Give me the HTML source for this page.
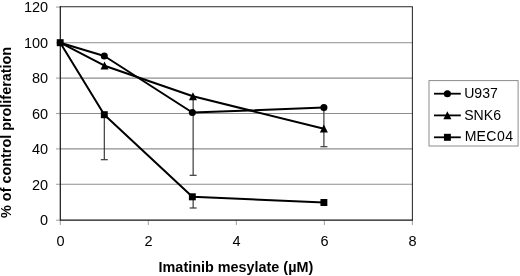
<!DOCTYPE html>
<html><head><meta charset="utf-8"><title>Chart</title>
<style>html,body{margin:0;padding:0;background:#fff}</style></head>
<body>
<svg width="520" height="276" viewBox="0 0 520 276" style="display:block;font-family:'Liberation Sans', Arial, Helvetica, sans-serif">
<rect width="520" height="276" fill="#fff"/>
<line x1="60.3" x2="412.4" y1="184.30" y2="184.30" stroke="#8e8e8e" stroke-width="1.1"/>
<line x1="60.3" x2="412.4" y1="148.90" y2="148.90" stroke="#8e8e8e" stroke-width="1.1"/>
<line x1="60.3" x2="412.4" y1="113.50" y2="113.50" stroke="#8e8e8e" stroke-width="1.1"/>
<line x1="60.3" x2="412.4" y1="78.10" y2="78.10" stroke="#8e8e8e" stroke-width="1.1"/>
<line x1="60.3" x2="412.4" y1="42.70" y2="42.70" stroke="#8e8e8e" stroke-width="1.1"/>
<line x1="56.0" x2="60.3" y1="220.20" y2="220.20" stroke="#a8a8a8" stroke-width="1.1"/>
<line x1="56.0" x2="60.3" y1="184.30" y2="184.30" stroke="#a8a8a8" stroke-width="1.1"/>
<line x1="56.0" x2="60.3" y1="148.90" y2="148.90" stroke="#a8a8a8" stroke-width="1.1"/>
<line x1="56.0" x2="60.3" y1="113.50" y2="113.50" stroke="#a8a8a8" stroke-width="1.1"/>
<line x1="56.0" x2="60.3" y1="78.10" y2="78.10" stroke="#a8a8a8" stroke-width="1.1"/>
<line x1="56.0" x2="60.3" y1="42.70" y2="42.70" stroke="#a8a8a8" stroke-width="1.1"/>
<line x1="56.0" x2="60.3" y1="7.10" y2="7.10" stroke="#a8a8a8" stroke-width="1.1"/>
<text transform="translate(48.10 225.40) scale(1 1.04)" font-size="14.5" text-anchor="end" fill="#000">0</text>
<text transform="translate(48.10 189.50) scale(1 1.04)" font-size="14.5" text-anchor="end" fill="#000">20</text>
<text transform="translate(48.10 154.10) scale(1 1.04)" font-size="14.5" text-anchor="end" fill="#000">40</text>
<text transform="translate(48.10 118.70) scale(1 1.04)" font-size="14.5" text-anchor="end" fill="#000">60</text>
<text transform="translate(48.10 83.30) scale(1 1.04)" font-size="14.5" text-anchor="end" fill="#000">80</text>
<text transform="translate(48.10 47.90) scale(1 1.04)" font-size="14.5" text-anchor="end" fill="#000">100</text>
<text transform="translate(48.10 12.30) scale(1 1.04)" font-size="14.5" text-anchor="end" fill="#000">120</text>
<line x1="60.30" x2="60.30" y1="220.2" y2="225.0" stroke="#a8a8a8" stroke-width="1.1"/>
<text transform="translate(60.50 246.20) scale(1 1.04)" font-size="14.5" text-anchor="middle" fill="#000">0</text>
<line x1="148.32" x2="148.32" y1="220.2" y2="225.0" stroke="#a8a8a8" stroke-width="1.1"/>
<text transform="translate(148.52 246.20) scale(1 1.04)" font-size="14.5" text-anchor="middle" fill="#000">2</text>
<line x1="236.35" x2="236.35" y1="220.2" y2="225.0" stroke="#a8a8a8" stroke-width="1.1"/>
<text transform="translate(236.55 246.20) scale(1 1.04)" font-size="14.5" text-anchor="middle" fill="#000">4</text>
<line x1="324.38" x2="324.38" y1="220.2" y2="225.0" stroke="#a8a8a8" stroke-width="1.1"/>
<text transform="translate(324.57 246.20) scale(1 1.04)" font-size="14.5" text-anchor="middle" fill="#000">6</text>
<line x1="412.40" x2="412.40" y1="220.2" y2="225.0" stroke="#a8a8a8" stroke-width="1.1"/>
<text transform="translate(412.60 246.20) scale(1 1.04)" font-size="14.5" text-anchor="middle" fill="#000">8</text>
<polyline points="60.3,6.6499999999999995 412.4,6.6499999999999995 412.4,220.2" fill="none" stroke="#2a2a2a" stroke-width="1.05"/>
<polyline points="60.3,6.1 60.3,220.2 412.9,220.2" fill="none" stroke="#151515" stroke-width="1.2"/>
<line x1="104.31" x2="104.31" y1="114.70" y2="159.70" stroke="#333" stroke-width="1.15"/>
<line x1="100.81" x2="107.81" y1="159.70" y2="159.70" stroke="#333" stroke-width="1.15"/>
<line x1="193.14" x2="193.14" y1="96.25" y2="175.30" stroke="#333" stroke-width="1.15"/>
<line x1="189.64" x2="196.64" y1="175.30" y2="175.30" stroke="#333" stroke-width="1.15"/>
<line x1="193.14" x2="193.14" y1="196.80" y2="208.00" stroke="#333" stroke-width="1.15"/>
<line x1="189.64" x2="196.64" y1="208.00" y2="208.00" stroke="#333" stroke-width="1.15"/>
<line x1="323.90" x2="323.90" y1="107.60" y2="146.70" stroke="#333" stroke-width="1.15"/>
<line x1="320.40" x2="327.40" y1="146.70" y2="146.70" stroke="#333" stroke-width="1.15"/>
<polyline points="60.20,42.70 104.31,56.00 192.34,112.50 323.90,107.60" fill="none" stroke="#000" stroke-width="2" stroke-linejoin="round"/>
<polyline points="60.20,42.70 104.51,65.70 192.94,96.30 323.90,128.70" fill="none" stroke="#000" stroke-width="2" stroke-linejoin="round"/>
<polyline points="60.20,42.70 104.31,114.70 192.34,196.80 323.90,202.50" fill="none" stroke="#000" stroke-width="2" stroke-linejoin="round"/>
<circle cx="104.31" cy="56.00" r="3.55" fill="#000"/>
<circle cx="192.34" cy="112.50" r="3.55" fill="#000"/>
<circle cx="323.90" cy="107.60" r="3.55" fill="#000"/>
<polygon points="104.51,61.60 108.51,69.60 100.51,69.60" fill="#000"/>
<polygon points="192.94,92.20 196.94,100.20 188.94,100.20" fill="#000"/>
<polygon points="323.90,124.60 327.90,132.60 319.90,132.60" fill="#000"/>
<rect x="56.75" y="39.20" width="6.9" height="7.0" fill="#000"/>
<rect x="100.86" y="111.20" width="6.9" height="7.0" fill="#000"/>
<rect x="188.89" y="193.30" width="6.9" height="7.0" fill="#000"/>
<rect x="320.45" y="199.00" width="6.9" height="7.0" fill="#000"/>
<rect x="429" y="80.6" width="89.1" height="65.4" fill="#fff" stroke="#8c8c8c" stroke-width="1"/>
<line x1="434" x2="460.8" y1="93.7" y2="93.7" stroke="#000" stroke-width="1.8"/>
<circle cx="447.40" cy="93.70" r="3.55" fill="#000"/>
<text transform="translate(464.2 98.05) scale(1 1.06)" font-size="14.1" fill="#000">U937</text>
<line x1="434" x2="460.8" y1="115.4" y2="115.4" stroke="#000" stroke-width="1.8"/>
<polygon points="447.40,111.30 451.40,119.30 443.40,119.30" fill="#000"/>
<text transform="translate(464.2 119.65) scale(1 1.06)" font-size="14.1" fill="#000">SNK6</text>
<line x1="434" x2="460.8" y1="137.3" y2="137.3" stroke="#000" stroke-width="1.8"/>
<rect x="443.95" y="133.80" width="6.9" height="7.0" fill="#000"/>
<text transform="translate(464.2 141.15) scale(1 1.06)" dx="0.45 0.1 0.25 0.8 0.35" font-size="14.1" fill="#000">MEC04</text>
<text x="235.9" y="271.5" font-size="14.4" font-weight="bold" text-anchor="middle" fill="#000">Imatinib mesylate (µM)</text>
<text transform="translate(11.3,132.4) rotate(-90)" font-size="14.4" font-weight="bold" text-anchor="middle" fill="#000">% of control proliferation</text>
</svg>
</body></html>
